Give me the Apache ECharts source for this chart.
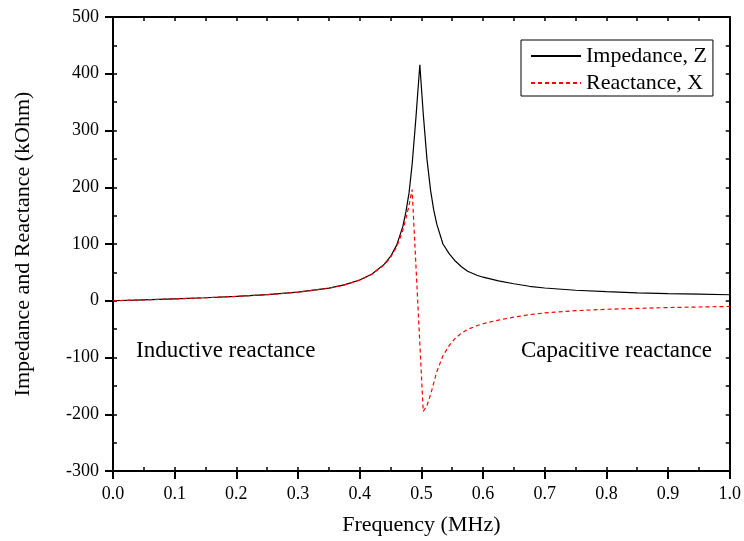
<!DOCTYPE html>
<html>
<head>
<meta charset="utf-8">
<script src="https://cdn.jsdelivr.net/npm/echarts@6/dist/echarts.min.js"></script>
<style>
  html, body { margin: 0; padding: 0; background: #fff; }
  #chart { width: 744px; height: 541px; }
</style>
</head>
<body>
<div id="chart"></div>
<script>
// frequency in MHz, values in kOhm
var freq = [0, 0.05, 0.1, 0.15, 0.2, 0.25, 0.3, 0.35, 0.375, 0.4, 0.42, 0.44, 0.45, 0.46, 0.47, 0.475, 0.48, 0.485,
  0.491, 0.4975, 0.503, 0.509, 0.515, 0.52, 0.525, 0.535, 0.545, 0.555, 0.565, 0.575, 0.59, 0.6, 0.625, 0.65,
  0.675, 0.7, 0.75, 0.8, 0.85, 0.9, 0.95, 1.0];
var impedance = [0, 1.6, 3.3, 5.3, 7.6, 10.8, 15.2, 22.3, 28, 36.5, 47, 64.5, 78, 98, 131, 157, 190, 240,
  320, 416, 330, 250, 194, 160, 135, 100, 83, 70, 60, 52, 45, 41.5, 35, 30,
  25.5, 22.5, 18.5, 16, 14, 12.5, 11.5, 10.6];
var reactance = [0, 1.6, 3.3, 5.3, 7.6, 10.8, 15.1, 22.1, 27.8, 36.3, 46.6, 63.5, 76.5, 95, 124, 145, 168, 196,
  null, null, -195, -185, -165, -145, -125, -97, -79, -66, -57, -50.5, -44, -40.5, -34, -29,
  -24.5, -21.5, -17.5, -15, -13.5, -12, -11, -10];
var xTicks = [0, 1, 0.1];      // min, max, interval
var yTicks = [-300, 500, 100];

var font = '"Liberation Serif", "DejaVu Serif", serif';

function pairs(ys) {
  return freq.map(function (f, i) { return [f, ys[i]]; });
}

var myChart = echarts.init(document.getElementById('chart'));

var major = { length: 8, lineStyle: { color: '#000', width: 2 } };
var minorIn = { inside: true, length: 4, lineStyle: { color: '#000', width: 1.5 } };
var axisLine = { onZero: false, lineStyle: { color: '#000', width: 2 } };

var option = {
  animation: false,
  grid: { left: 113, right: 12, top: 17, bottom: 70 },
  legend: {
    orient: 'vertical',
    left: 521,
    top: 40,
    padding: [5, 6, 2, 9],
    itemWidth: 50,
    itemHeight: 14,
    itemGap: 5,
    borderColor: '#000',
    borderWidth: 1,
    itemStyle: { opacity: 0 },
    textStyle: { fontFamily: font, fontSize: 22, color: '#000' },
    data: ['Impedance, Z', 'Reactance, X']
  },
  xAxis: [
    {
      type: 'value', position: 'bottom',
      min: xTicks[0], max: xTicks[1], interval: xTicks[2],
      name: 'Frequency (MHz)', nameLocation: 'middle', nameGap: 43,
      nameTextStyle: { fontFamily: font, fontSize: 22, color: '#000' },
      axisLine: axisLine,
      axisTick: major,
      axisLabel: { fontFamily: font, fontSize: 18, color: '#000', margin: 14,
        formatter: function (v) { return v.toFixed(1); } },
      splitLine: { show: false }
    },
    {
      type: 'value', position: 'bottom',
      min: xTicks[0], max: xTicks[1], interval: xTicks[2] / 2,
      axisLine: { show: false, onZero: false },
      axisTick: minorIn,
      axisLabel: { show: false }, splitLine: { show: false }
    },
    {
      type: 'value', position: 'top',
      min: xTicks[0], max: xTicks[1], interval: xTicks[2] / 2,
      axisLine: axisLine,
      axisTick: minorIn,
      axisLabel: { show: false }, splitLine: { show: false }
    }
  ],
  yAxis: [
    {
      type: 'value', position: 'left',
      min: yTicks[0], max: yTicks[1], interval: yTicks[2],
      name: 'Impedance and Reactance (kOhm)', nameLocation: 'middle', nameGap: 79,
      nameTextStyle: { fontFamily: font, fontSize: 22, color: '#000' },
      axisLine: axisLine,
      axisTick: major,
      axisLabel: { fontFamily: font, fontSize: 18, color: '#000', margin: 14 },
      splitLine: { show: false }
    },
    {
      type: 'value', position: 'left',
      min: yTicks[0], max: yTicks[1], interval: yTicks[2] / 2,
      axisLine: { show: false, onZero: false },
      axisTick: minorIn,
      axisLabel: { show: false }, splitLine: { show: false }
    },
    {
      type: 'value', position: 'right',
      min: yTicks[0], max: yTicks[1], interval: yTicks[2] / 2,
      axisLine: axisLine,
      axisTick: minorIn,
      axisLabel: { show: false }, splitLine: { show: false }
    }
  ],
  graphic: [
    { type: 'text', left: 136, top: 339,
      style: { text: 'Inductive reactance', font: '23px ' + font, fill: '#000' } },
    { type: 'text', left: 521, top: 339,
      style: { text: 'Capacitive reactance', font: '23px ' + font, fill: '#000' } }
  ],
  series: [
    {
      name: 'Impedance, Z', type: 'line', symbol: 'none',
      xAxisIndex: 0, yAxisIndex: 0,
      lineStyle: { color: '#000', width: 1.2 },
      itemStyle: { color: '#000' },
      data: pairs(impedance)
    },
    {
      name: 'Reactance, X', type: 'line', symbol: 'none', connectNulls: true,
      xAxisIndex: 0, yAxisIndex: 0,
      lineStyle: { color: '#ff0000', width: 1.2, type: [4, 3] },
      itemStyle: { color: '#ff0000' },
      data: pairs(reactance)
    }
  ]
};

myChart.setOption(option);
</script>
</body>
</html>
